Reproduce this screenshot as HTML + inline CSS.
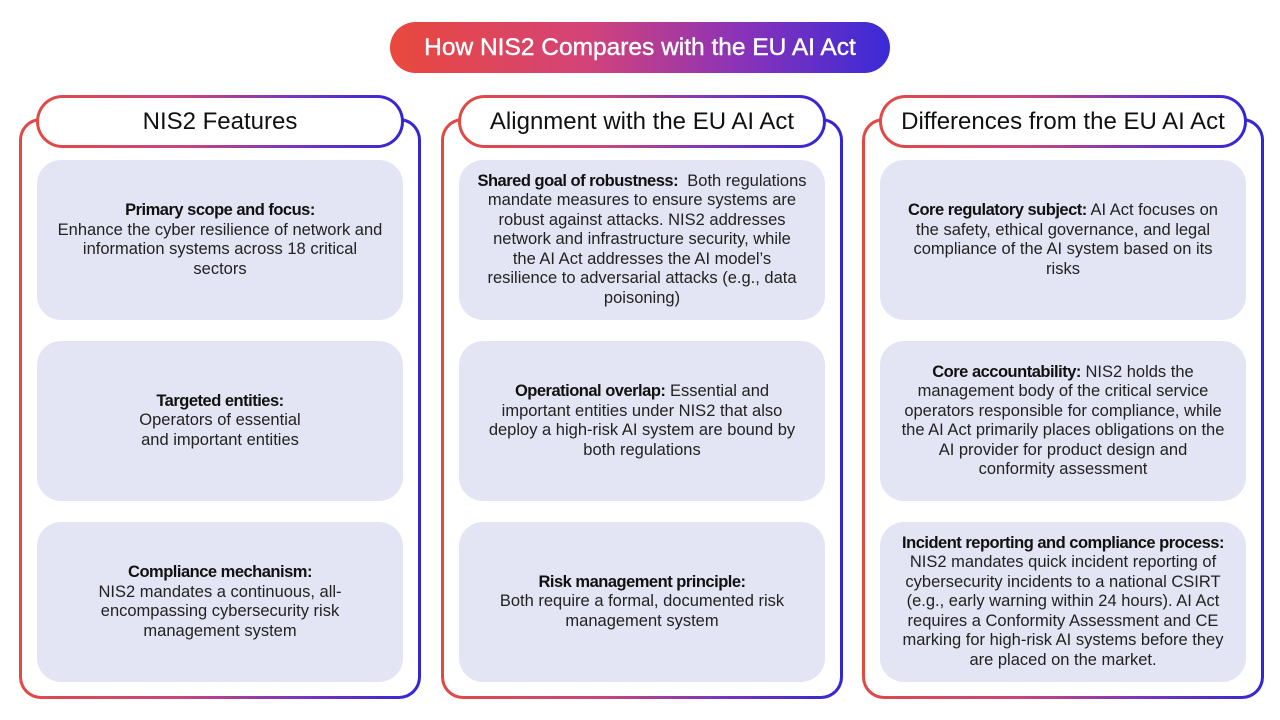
<!DOCTYPE html>
<html><head><meta charset="utf-8"><style>
*{margin:0;padding:0;box-sizing:border-box}
body{width:1280px;height:720px;background:#fff;position:relative;overflow:hidden;font-family:"Liberation Sans",sans-serif;color:#1a1a1a}
.title{position:absolute;left:390px;top:22px;width:500px;height:51px;border-radius:26px;background:linear-gradient(90deg,#e9483c,#d2437a 40%,#8a33b8 70%,#3a2ad8);color:#fff;font-size:24.5px;text-align:center;line-height:51px;-webkit-text-stroke:0.4px #fff}
.frame{position:absolute;top:118px;width:402px;height:581px;border:3px solid transparent;border-radius:22px;background:linear-gradient(#fff,#fff) padding-box,linear-gradient(90deg,#e14a44,#c8467e 40%,#7a36bb 70%,#3226d6) border-box}
.head{position:absolute;top:95px;width:368px;height:53px;border:3px solid transparent;border-radius:27px;background:linear-gradient(#fff,#fff) padding-box,linear-gradient(90deg,#e14a44,#c8467e 40%,#7a36bb 70%,#3226d6) border-box;font-size:24px;text-align:center;line-height:47px;color:#111}
.card{position:absolute;width:366px;height:160px;border-radius:24px;background:#e3e5f4;display:flex;align-items:center;justify-content:center;text-align:center;font-size:16.5px;line-height:19.5px;white-space:nowrap;color:#222}
.card b{letter-spacing:-0.5px;color:#111}
</style></head><body>
<div class="title">How NIS2 Compares with the EU AI Act</div>

<div class="frame" style="left:19px"></div>
<div class="frame" style="left:441px"></div>
<div class="frame" style="left:862px"></div>
<div class="head" style="left:36px">NIS2 Features</div>
<div class="head" style="left:458px">Alignment with the EU AI Act</div>
<div class="head" style="left:879px">Differences from the EU AI Act</div>

<div class="card" style="left:37px;top:160px"><div><b>Primary scope and focus:</b><br>Enhance the cyber resilience of network and<br>information systems across 18 critical<br>sectors</div></div>
<div class="card" style="left:37px;top:341px"><div><b>Targeted entities:</b><br>Operators of essential<br>and important entities</div></div>
<div class="card" style="left:37px;top:522px"><div><b>Compliance mechanism:</b><br>NIS2 mandates a continuous, all-<br>encompassing cybersecurity risk<br>management system</div></div>

<div class="card" style="left:459px;top:160px"><div><b>Shared goal of robustness:</b>&nbsp; Both regulations<br>mandate measures to ensure systems are<br>robust against attacks. NIS2 addresses<br>network and infrastructure security, while<br>the AI Act addresses the AI model’s<br>resilience to adversarial attacks (e.g., data<br>poisoning)</div></div>
<div class="card" style="left:459px;top:341px"><div><b>Operational overlap:</b> Essential and<br>important entities under NIS2 that also<br>deploy a high-risk AI system are bound by<br>both regulations</div></div>
<div class="card" style="left:459px;top:522px"><div><b>Risk management principle:</b><br>Both require a formal, documented risk<br>management system</div></div>

<div class="card" style="left:880px;top:160px"><div><b>Core regulatory subject:</b> AI Act focuses on<br>the safety, ethical governance, and legal<br>compliance of the AI system based on its<br>risks</div></div>
<div class="card" style="left:880px;top:341px"><div><b>Core accountability:</b> NIS2 holds the<br>management body of the critical service<br>operators responsible for compliance, while<br>the AI Act primarily places obligations on the<br>AI provider for product design and<br>conformity assessment</div></div>
<div class="card" style="left:880px;top:522px"><div><b>Incident reporting and compliance process:</b><br>NIS2 mandates quick incident reporting of<br>cybersecurity incidents to a national CSIRT<br>(e.g., early warning within 24 hours). AI Act<br>requires a Conformity Assessment and CE<br>marking for high-risk AI systems before they<br>are placed on the market.</div></div>
</body></html>
